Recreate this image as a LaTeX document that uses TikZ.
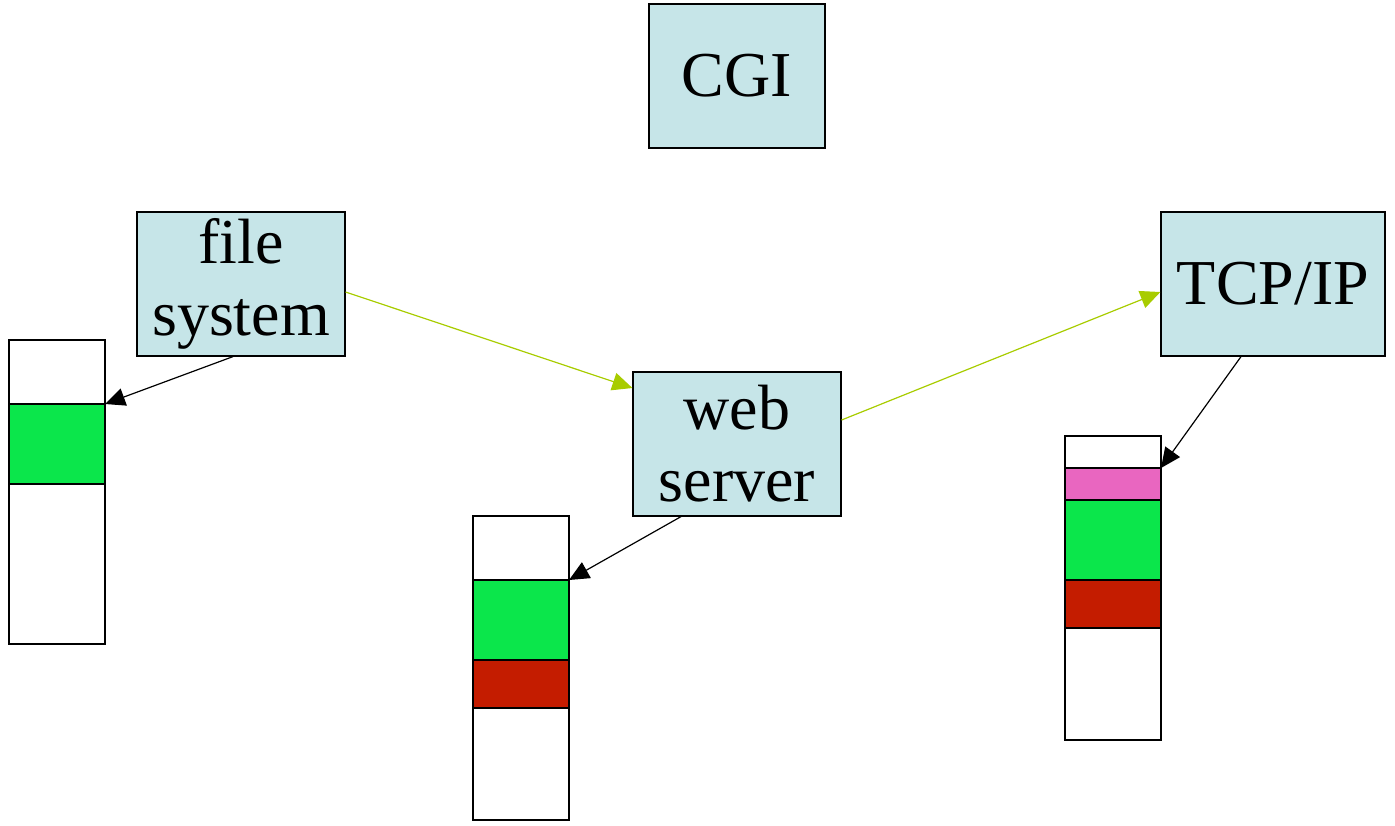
\documentclass[tikz,border=0pt]{standalone}
\usepackage{fontspec}
\setmainfont{Liberation Serif}
\usetikzlibrary{positioning,arrows.meta,calc}
\definecolor{boxblue}{HTML}{C6E5E8}
\definecolor{laygreen}{HTML}{0BE64B}
\definecolor{layred}{HTML}{C41C00}
\definecolor{laypink}{HTML}{E966C0}
\definecolor{flowgreen}{HTML}{A8CC00}
\tikzstyle{layer} = [rectangle, draw, line width=0.6pt, minimum width=48pt, inner sep=0pt, outer sep=0pt]
\tikzstyle{module} = [rectangle, draw, line width=0.6pt, fill=boxblue, minimum height=72pt, inner sep=0pt, align=center, font=\fontsize{32}{36}\selectfont]
\tikzstyle{connector} = [line width=0.6pt, -{Triangle[length=10pt,width=9pt]}]
\tikzstyle{flow} = [connector, draw=flowgreen, -{Triangle[length=10pt,width=9pt,fill=flowgreen]}]

\begin{document}
\begin{tikzpicture}[x=0.5pt,y=-0.5pt]
        \useasboundingbox (0,0) rectangle (1395,825);
        % modules
        \node (cgi) [module, minimum width=88pt] at (737,76) {CGI};
        \node (fs) [module, minimum width=104pt] at (241,284) {file\\system};
        \node (ws) [module, minimum width=104pt] at (737,444) {web\\server};
        \node (tcp) [module, minimum width=112pt] at (1273,284) {TCP/IP};
        % left stack
        \node (l-top) [layer, minimum height=32pt, anchor=north west] at (9,340) {};
        \node (l-green) [layer, fill=laygreen, minimum height=40pt, below=0pt of l-top] {};
        \node (l-bot) [layer, minimum height=80pt, below=0pt of l-green] {};
        % middle stack
        \node (m-top) [layer, minimum height=32pt, anchor=north west] at (473,516) {};
        \node (m-green) [layer, fill=laygreen, minimum height=40pt, below=0pt of m-top] {};
        \node (m-red) [layer, fill=layred, minimum height=24pt, below=0pt of m-green] {};
        \node (m-bot) [layer, minimum height=56pt, below=0pt of m-red] {};
        % right stack
        \node (r-top) [layer, minimum height=16pt, anchor=north west] at (1065,436) {};
        \node (r-pink) [layer, fill=laypink, minimum height=16pt, below=0pt of r-top] {};
        \node (r-green) [layer, fill=laygreen, minimum height=40pt, below=0pt of r-pink] {};
        \node (r-red) [layer, fill=layred, minimum height=24pt, below=0pt of r-green] {};
        \node (r-bot) [layer, minimum height=56pt, below=0pt of r-red] {};
        % connectors
        \draw [flow] ($(fs.east)+(0,8)$) -- ($(ws.west)+(0,-56)$);
        \draw [flow] ($(ws.east)+(0,-24)$) -- ($(tcp.west)+(0,8)$);
        \draw [connector] ($(fs.south)+(-8,0)$) -- (l-green.north east);
        \draw [connector] ($(ws.south)+(-56,0)$) -- (m-green.north east);
        \draw [connector] ($(tcp.south)+(-32,0)$) -- (r-pink.north east);
\end{tikzpicture}
\end{document}
